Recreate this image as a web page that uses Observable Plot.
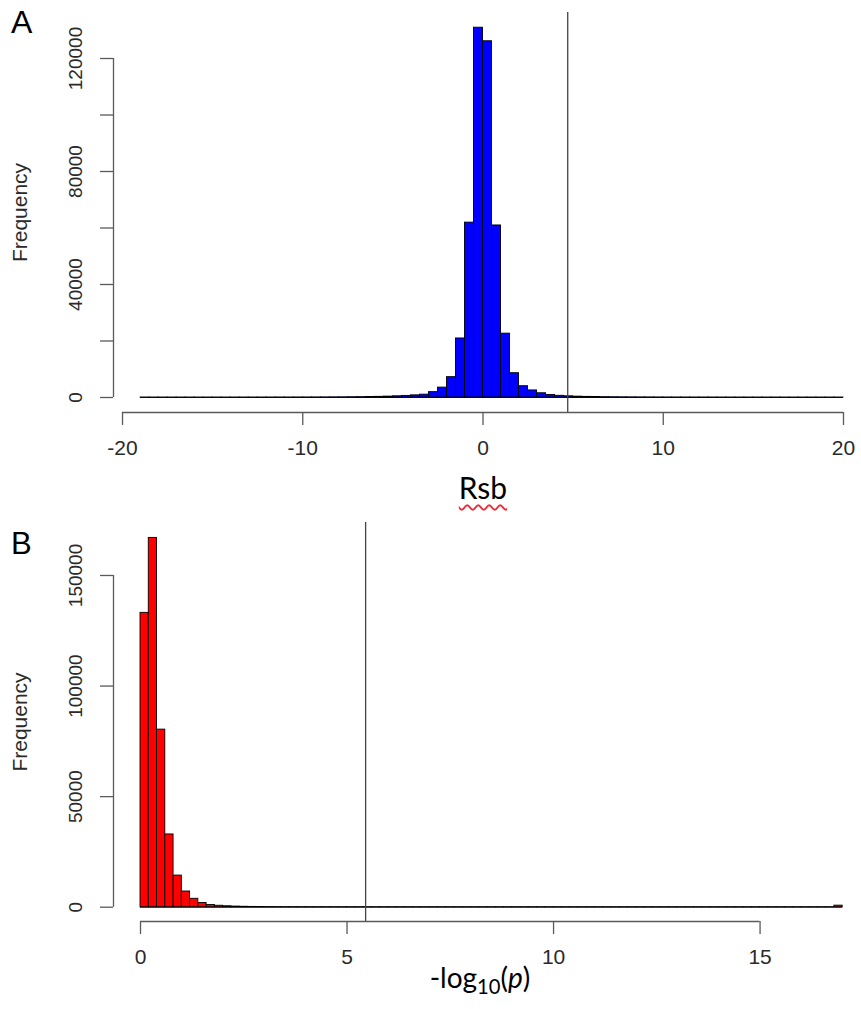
<!DOCTYPE html>
<html>
<head>
<meta charset="utf-8">
<script src="https://cdn.jsdelivr.net/npm/d3@7"></script>
<script src="https://cdn.jsdelivr.net/npm/@observablehq/plot@0.6"></script>
<style>
  html, body { margin: 0; padding: 0; background: #fff; }
  #wrap { position: relative; width: 861px; height: 1009px; background: #fff; overflow: hidden; }
  .panel { position: absolute; left: 0; }
  .tag { position: absolute; font-family: 'Liberation Sans', Arial, sans-serif; color: #000; line-height: 32px; }
  .xtitle { position: absolute; width: 240px; text-align: center; font-family: Lato, 'Open Sans', sans-serif; color: #000; }
  .xtitle sub { font-size: 0.72em; vertical-align: -0.28em; line-height: 0; }
</style>
</head>
<body>
<div id="wrap">
  <div class="tag" style="left:11px; top:6px; font-size:32px;">A</div>
  <div class="tag" style="left:11px; top:528px; font-size:31px;">B</div>
  <div id="top" class="panel" style="top:0px;"></div>
  <div id="bottom" class="panel" style="top:515px;"></div>
  <div class="xtitle" style="left:363px; top:473px; font-size:30px; line-height:28px;"><span style="text-decoration: underline wavy #e8303a; text-decoration-thickness: 1.5px; text-underline-offset: 5px;">Rsb</span></div>
  <div class="xtitle" style="left:360px; top:964px; font-size:28px; line-height:27px;">-log<sub>10</sub>(<i>p</i>)</div>
</div>
<script>
// ---------- Panel A: Rsb histogram ----------
const rsbBinStart = -19;
const rsbBinWidth = 0.5;
const rsbCounts = [
  3, 1, 2, 1, 1, 2, 1, 2, 3, 2, 4, 5, 6, 8, 10, 12, 15, 20, 25, 32,
  40, 55, 70, 95, 125, 170, 230, 310, 420, 560, 760,
  1000, 1900, 3500, 7200, 20900, 61900, 130900, 126100, 60900, 22600,
  8600, 4000, 2500, 1500, 900, 600, 420, 300, 220, 160, 120, 90, 70, 55,
  42, 33, 26, 20, 16, 13, 10, 8, 6, 5, 4, 3, 3, 2, 2, 2, 1, 1, 1, 1, 1, 1, 1
];
const rsbXTicks = [-20, -10, 0, 10, 20];
const rsbYTicks = [0, 20000, 40000, 60000, 80000, 100000, 120000];
const rsbYLabels = [0, 40000, 80000, 120000];
const rsbThreshold = 4.7;

// ---------- Panel B: -log10(p) histogram ----------
const pBinStart = 0;
const pBinWidth = 0.2;
const pCounts = [
  133100, 167000, 80300, 32900, 14300, 7100, 3800, 1900, 1000, 650,
  420, 280, 190, 130, 90, 65, 48, 35, 26, 20,
  15, 12, 9, 7, 6, 5, 4, 4, 3, 3,
  2, 2, 2, 2, 1, 1, 1, 1, 1, 1,
  1, 1, 1, 1, 1, 1, 1, 1, 1, 1,
  1, 1, 1, 1, 1, 1, 1, 1, 1, 1,
  1, 1, 1, 1, 1, 1, 1, 1, 1, 1,
  1, 1, 1, 1, 1, 1, 1, 1, 1, 1,
  1, 1, 1, 1, 700
];
const pXTicks = [0, 5, 10, 15];
const pYTicks = [0, 50000, 100000, 150000];
const pThreshold = 5.45;

const rsbBins = rsbCounts.map((c, i) => ({x1: rsbBinStart + i * rsbBinWidth, x2: rsbBinStart + (i + 1) * rsbBinWidth, count: c}));
const pBins = pCounts.map((c, i) => ({x1: +(pBinStart + i * pBinWidth).toFixed(2), x2: +(pBinStart + (i + 1) * pBinWidth).toFixed(2), count: c}));

const baseStyle = {fontFamily: "'Liberation Sans', Arial, Helvetica, sans-serif", background: "transparent", overflow: "visible", color: "#222"};
const axisGray = "#5a5a5a";
const labelGray = "#2a2a2a";

function histPanel({bins, fill, xDomain, yDomain, marginLeft, marginRight, marginTop, marginBottom, height,
                    xTicks, yTicks, yLabels, threshold, yAxisTop}) {
  const yMin = yDomain[0];
  return Plot.plot({
    width: 861,
    height,
    marginLeft, marginRight, marginTop, marginBottom,
    x: {domain: xDomain},
    y: {domain: yDomain},
    style: baseStyle,
    marks: [
      Plot.ruleY([0], {x1: bins[0].x1, x2: bins[bins.length - 1].x2, stroke: "#111", strokeWidth: 1.2}),
      Plot.rectY(bins, {x1: "x1", x2: "x2", y: "count", fill, stroke: "#000", strokeWidth: 0.9}),
      Plot.ruleX([threshold], {stroke: "#444", strokeWidth: 1.3}),
      Plot.ruleX([xDomain[0]], {y1: 0, y2: yAxisTop, stroke: axisGray, strokeWidth: 1.3}),
      Plot.ruleY([yMin], {x1: xTicks[0], x2: xTicks[xTicks.length - 1], stroke: axisGray, strokeWidth: 1.3}),
      Plot.axisY({
        ticks: yTicks,
        tickFormat: () => "",
        tickSize: 13,
        stroke: axisGray, strokeWidth: 1.3, fill: labelGray,
        fontSize: 21,
        label: "Frequency", labelAnchor: "center", labelArrow: "none", labelOffset: 101
      }),
      Plot.text(yLabels, {
        y: d => d, text: d => String(d), frameAnchor: "left", dx: -38,
        rotate: -90, textAnchor: "middle", lineAnchor: "middle",
        fontSize: 19, fill: labelGray
      }),
      Plot.axisX({
        ticks: xTicks,
        tickFormat: d => String(d),
        tickSize: 13, tickPadding: 15,
        stroke: axisGray, strokeWidth: 1.3, fill: labelGray,
        fontSize: 21,
        label: null
      })
    ]
  });
}

// Panel A geometry: x -20 -> 122px, 20 -> 843px; y 0 -> 397px, 120000 -> 58px
const topPlot = histPanel({
  bins: rsbBins, fill: "#0000ff",
  xDomain: [-20.5, 20], yDomain: [-5310, 136283],
  marginLeft: 113, marginRight: 18, marginTop: 12, marginBottom: 103, height: 515,
  xTicks: rsbXTicks, yTicks: rsbYTicks, yLabels: rsbYLabels, threshold: rsbThreshold,
  yAxisTop: 120000
});
document.getElementById("top").appendChild(topPlot);

// Panel B geometry: x 0 -> 140px, 15 -> 759.5px; y 0 -> 391.7px, 150000 -> 60px (relative)
const bottomPlot = histPanel({
  bins: pBins, fill: "#ff0000",
  xDomain: [-0.654, 17.02], yDomain: [-6466, 173960],
  marginLeft: 113, marginRight: 18, marginTop: 7, marginBottom: 88, height: 494,
  xTicks: pXTicks, yTicks: pYTicks, yLabels: pYTicks, threshold: pThreshold,
  yAxisTop: 150000
});
document.getElementById("bottom").appendChild(bottomPlot);
</script>
</body>
</html>
